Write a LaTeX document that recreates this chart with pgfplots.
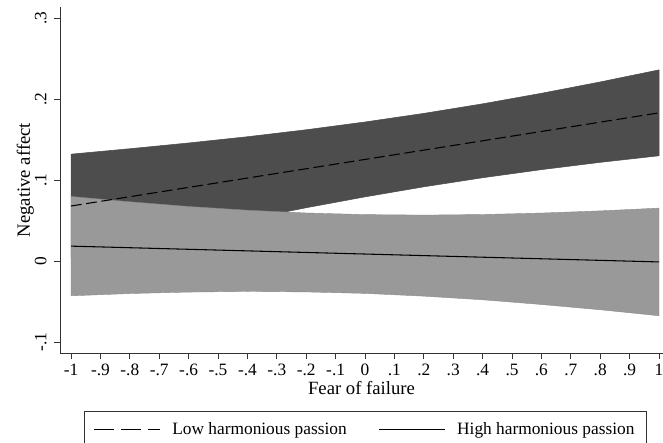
\documentclass[border=0pt]{standalone}
\usepackage{fontspec}
\setmainfont{Liberation Serif}
\usepackage{pgfplots}
\pgfplotsset{compat=1.18}

\definecolor{bandlow}{RGB}{77,77,77}
\definecolor{bandhigh}{RGB}{153,153,153}

\begin{document}
\begin{tikzpicture}[font=\fontsize{13}{15}\selectfont]
\begin{axis}[
  scale only axis,
  width=452pt, height=259.5pt,
  xmin=-1.0374, xmax=1.0136,
  ymin=-0.1136, ymax=0.3136,
  axis lines=left,
  axis line style={-, black!80, line width=0.6pt},
  tick align=outside,
  major tick length=4.5pt,
  tick style={black!80, line width=0.6pt},
  xtick={-1,-0.9,-0.8,-0.7,-0.6,-0.5,-0.4,-0.3,-0.2,-0.1,0,0.1,0.2,0.3,0.4,0.5,0.6,0.7,0.8,0.9,1},
  xticklabels={-1,-.9,-.8,-.7,-.6,-.5,-.4,-.3,-.2,-.1,0,.1,.2,.3,.4,.5,.6,.7,.8,.9,1},
  ytick={-0.1,0,0.1,0.2,0.3},
  yticklabels={-.1,0,.1,.2,.3},
  yticklabel style={rotate=90, anchor=south},
  yticklabel shift=2pt,
  /pgf/number format/assume math mode=true,
  xlabel={Fear of failure},
  ylabel={Negative affect},
  xlabel style={font=\fontsize{14}{16}\selectfont, inner ysep=1pt},
  ylabel style={font=\fontsize{14}{16}\selectfont,
    at={(axis description cs:-0.0354,0.5)}, anchor=south},
  legend columns=2,
  legend style={at={(0.5066,-0.1676)}, anchor=north, draw=black!80,
    line width=0.6pt, font=\fontsize{13}{15}\selectfont,
    inner xsep=7pt, inner ysep=6pt,
    /tikz/every odd column/.append style={column sep=7pt},
    /tikz/every even column/.append style={column sep=22pt}},
  legend image code/.code={\draw[#1] (0pt,0pt) -- (49pt,0pt);},
]
\coordinate (bbsw) at (rel axis cs:0,0);
\coordinate (bbne) at (rel axis cs:1,1);
% CI band, low harmonious passion
\addplot[fill=bandlow, draw=black!70, line width=0.4pt, forget plot] coordinates {
  (-1,0.1320) (-0.8,0.1387) (-0.6,0.1458) (-0.4,0.1535) (-0.2,0.1621) (0,0.1717)
  (0.2,0.1823) (0.4,0.1941) (0.6,0.2071) (0.8,0.2211) (1,0.2360)
  (1,0.1300) (0.8,0.1219) (0.6,0.1129) (0.4,0.1029) (0.2,0.0917) (0,0.0793)
  (-0.2,0.0659) (-0.4,0.0515) (-0.6,0.0362) (-0.8,0.0203) (-1,0.0040)
} -- cycle;
% CI band, high harmonious passion
\addplot[fill=bandhigh, draw=bandhigh!90!black, line width=0.3pt, forget plot] coordinates {
  (-1,0.0798) (-0.8,0.0732) (-0.6,0.0674) (-0.4,0.0628) (-0.2,0.0594) (0,0.0574)
  (0.2,0.0568) (0.4,0.0575) (0.6,0.0593) (0.8,0.0620) (1,0.0654)
  (1,-0.0674) (0.8,-0.0600) (0.6,-0.0535) (0.4,-0.0477) (0.2,-0.0432) (0,-0.0398)
  (-0.2,-0.0380) (-0.4,-0.0374) (-0.6,-0.0382) (-0.8,-0.0400) (-1,-0.0428)
} -- cycle;
\addplot[black, line width=0.8pt, dash pattern=on 8pt off 3.5pt, forget plot] coordinates {
  (-1,0.068) (1,0.183)
};
\addlegendimage{black, line width=0.8pt, dash pattern=on 15pt off 5pt}
\addlegendentry{Low harmonious passion}
\addplot[black, line width=0.8pt] coordinates {
  (-1,0.0185) (1,-0.001)
};
\addlegendentry{High harmonious passion}
\end{axis}
% crop like the reference: legend box runs off the bottom edge
\pgfresetboundingbox
\path[use as bounding box] ([shift={(-45pt,-66.75pt)}]bbsw) rectangle ([shift={(0pt,5.25pt)}]bbne);
\end{tikzpicture}
\end{document}
